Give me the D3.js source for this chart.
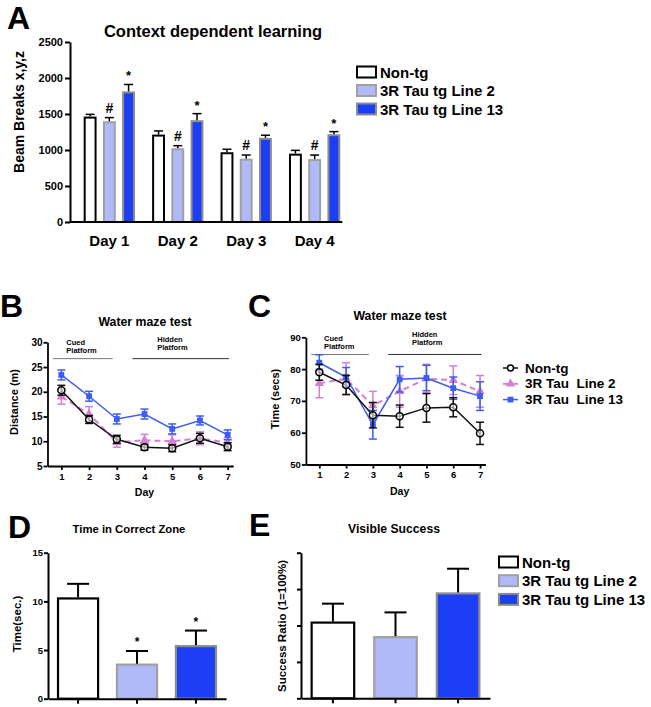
<!DOCTYPE html>
<html>
<head>
<meta charset="utf-8">
<script src="https://cdn.jsdelivr.net/npm/d3@7"></script>
<style>
  body { margin: 0; background: #fff; }
  text { font-family: "Liberation Sans", Arial, sans-serif; font-weight: bold; fill: #000; }
</style>
</head>
<body>
<div id="fig"></div>
<script>
// ---- data ----
var days = ["Day 1", "Day 2", "Day 3", "Day 4"];
var groups = ["Non-tg", "3R Tau tg Line 2", "3R Tau tg Line 13"];
var beamNonTg = [1450, 1200, 955, 935];
var beamLine2 = [1385, 1010, 865, 860];
var beamLine13 = [1800, 1400, 1155, 1205];
var beamNonTgErr = [45, 65, 55, 60];
var beamLine2Err = [65, 50, 65, 70];
var beamLine13Err = [110, 105, 50, 50];
var beamMarks = ["", "#", "*"];
var beamTicks = [0, 500, 1000, 1500, 2000, 2500];

var mazeDays = [1, 2, 3, 4, 5, 6, 7];
var lineNames = ["Non-tg", "3R Tau  Line 2", "3R Tau  Line 13"];
var distNonTg = [20.3, 14.4, 10.4, 8.8, 8.6, 10.6, 8.9];
var distNonTgErr = [1.0, 0.8, 0.8, 0.6, 0.7, 1.0, 0.8];
var distLine2 = [19.0, 15.5, 9.8, 10.2, 10.0, 10.6, 9.7];
var distLine2Err = [1.5, 1.5, 1.0, 1.2, 1.3, 1.3, 1.0];
var distLine13 = [23.4, 19.1, 14.5, 15.5, 12.5, 14.2, 11.3];
var distLine13Err = [1.0, 1.0, 1.0, 1.0, 1.0, 0.9, 1.0];
var distTicks = [5, 10, 15, 20, 25, 30];

var timeNonTg = [79, 75, 65.5, 65.2, 67.8, 68, 59.8];
var timeNonTgErr = [2.5, 3, 4, 3.5, 4.5, 3, 3.5];
var timeLine2 = [75.5, 77, 68.5, 73, 77, 76.5, 73];
var timeLine2Err = [4.5, 5, 4.5, 5, 4.5, 4.5, 5];
var timeLine13 = [82, 77.5, 62.5, 76.8, 77.2, 74, 71.5];
var timeLine13Err = [2.5, 3, 4.5, 4, 4, 3.5, 4.5];
var timeTicks = [50, 60, 70, 80, 90];

// phase bars above the maze plots, in day units
var cuedSpan = [0.7, 2.85];
var hiddenSpan = [3.57, 7.05];

var zoneTime = [10.3, 3.5, 5.4];
var zoneTimeErr = [1.5, 1.4, 1.6];
var zoneMarks = ["", "*", "*"];
var zoneTicks = [0, 5, 10, 15];

var successRatio = [0.52, 0.42, 0.72];
var successErr = [0.13, 0.17, 0.17];
var successTicks = [0, 0.25, 0.5, 0.75, 1];

// ---- styles ----
var barFill = ["#ffffff", "#b1baf8", "#1c3ef5"];
var barStroke = ["#000000", "#a0a0a0", "#8c8c8c"];
var lineColor = ["#111111", "#d47fd2", "#3d5cf0"];

var svg = d3.select("#fig").append("svg")
  .attr("width", 651)
  .attr("height", 707);

function panelLetter(x, y, s) {
  svg.append("text").attr("x", x).attr("y", y)
    .attr("font-size", "32px").text(s);
}

function title(x, y, size, s) {
  svg.append("text").attr("x", x).attr("y", y)
    .attr("text-anchor", "middle").attr("font-size", size).text(s);
}

function yLabel(x, y, size, s) {
  svg.append("text")
    .attr("transform", `translate(${x}, ${y}) rotate(-90)`)
    .attr("text-anchor", "middle")
    .attr("dominant-baseline", "central")
    .attr("font-size", size)
    .text(s);
}

function styleAxis(g, fontSize, width) {
  g.selectAll("path, line").attr("stroke", "#000").attr("stroke-width", width);
  g.selectAll("text").attr("font-size", fontSize)
    .style("font-family", '"Liberation Sans", Arial, sans-serif').style("font-weight", "bold");
}

// ================= Panel A =================
panelLetter(7, 29, "A");
title(213, 37, "16.5px", "Context dependent learning");

var yA = d3.scaleLinear().domain([0, 2500]).range([222, 42]);
var x0 = d3.scaleBand().domain(days).range([70, 354]).paddingInner(0.25).paddingOuter(0.2);
var x1 = d3.scaleBand().domain(groups).range([0, x0.bandwidth()]).paddingInner(0.33);

var beamVals = [beamNonTg, beamLine2, beamLine13];
var beamErrs = [beamNonTgErr, beamLine2Err, beamLine13Err];
var beamRows = [];
days.forEach(function(d, i) {
  groups.forEach(function(gname, j) {
    beamRows.push({ day: d, group: gname, k: j, v: beamVals[j][i], e: beamErrs[j][i] });
  });
});

var gA = svg.append("g");
gA.selectAll("rect").data(beamRows).enter().append("rect")
  .attr("x", d => x0(d.day) + x1(d.group) + 1)
  .attr("y", d => yA(d.v))
  .attr("width", x1.bandwidth() - 2)
  .attr("height", d => yA(0) - yA(d.v))
  .attr("fill", d => barFill[d.k])
  .attr("stroke", d => barStroke[d.k])
  .attr("stroke-width", 2);

var errA = gA.selectAll(".err").data(beamRows).enter().append("g");
errA.append("line")
  .attr("x1", d => x0(d.day) + x1(d.group) + x1.bandwidth() / 2)
  .attr("x2", d => x0(d.day) + x1(d.group) + x1.bandwidth() / 2)
  .attr("y1", d => yA(d.v) - 1)
  .attr("y2", d => yA(d.v + d.e))
  .attr("stroke", "#000").attr("stroke-width", 1.5);
errA.append("line")
  .attr("x1", d => x0(d.day) + x1(d.group) + x1.bandwidth() / 2 - 4.5)
  .attr("x2", d => x0(d.day) + x1(d.group) + x1.bandwidth() / 2 + 4.5)
  .attr("y1", d => yA(d.v + d.e))
  .attr("y2", d => yA(d.v + d.e))
  .attr("stroke", "#000").attr("stroke-width", 1.5);
gA.selectAll(".mark").data(beamRows.filter(d => beamMarks[d.k] !== "")).enter().append("text")
  .attr("x", d => x0(d.day) + x1(d.group) + x1.bandwidth() / 2)
  .attr("y", d => yA(d.v + d.e) - (beamMarks[d.k] === "#" ? 5 : 4))
  .attr("text-anchor", "middle")
  .attr("font-size", d => beamMarks[d.k] === "#" ? "14px" : "13px")
  .text(d => beamMarks[d.k]);

var axA = svg.append("g").attr("transform", "translate(70,0)")
  .call(d3.axisLeft(yA).tickValues(beamTicks).tickFormat(d3.format("d"))
    .tickSize(5).tickSizeOuter(0).tickPadding(2));
styleAxis(axA, "11px", 2);

var axAx = svg.append("g").attr("transform", "translate(0,222)")
  .call(d3.axisBottom(x0).tickSize(0).tickPadding(13));
styleAxis(axAx, "15px", 2);
axAx.select(".domain").remove();
svg.append("line")
  .attr("x1", x0.range()[0]).attr("x2", x0(days[3]) + x0.bandwidth() + 2)
  .attr("y1", yA(0)).attr("y2", yA(0))
  .attr("stroke", "#000").attr("stroke-width", 2);
yLabel(19, 112, "14px", "Beam Breaks x,y,z");

function barLegend(x, y, step) {
  var lg = svg.append("g").attr("transform", `translate(${x},${y})`);
  groups.forEach(function(name, i) {
    lg.append("rect").attr("x", 1).attr("y", i * step - 5.5).attr("width", 19).attr("height", 11)
      .attr("fill", barFill[i]).attr("stroke", i === 0 ? "#000" : barStroke[i]).attr("stroke-width", 2);
    lg.append("text").attr("x", 24).attr("y", i * step).attr("dominant-baseline", "central")
      .attr("font-size", "15px").text(name);
  });
}
barLegend(356, 72, 18.5);

// ================= Panels B and C =================
function mazePanel(cfg) {
  var x = d3.scaleLinear().domain([0.5, 7.2]).range(cfg.xr);
  var y = d3.scaleLinear().domain(cfg.yd).range(cfg.yr);

  // phase annotations
  var ph = svg.append("g");
  ph.append("line").attr("x1", x(cuedSpan[0])).attr("x2", x(cuedSpan[1]))
    .attr("y1", y(cfg.phaseY)).attr("y2", y(cfg.phaseY)).attr("stroke", "#777").attr("stroke-width", 1);
  ph.append("line").attr("x1", x(hiddenSpan[0])).attr("x2", x(hiddenSpan[1]))
    .attr("y1", y(cfg.phaseY)).attr("y2", y(cfg.phaseY)).attr("stroke", "#333").attr("stroke-width", 1);
  [["Cued", 1.18, cfg.cuedTextY], ["Hidden", 4.46, cfg.cuedTextY - 3.5]].forEach(function(p) {
    var t = ph.append("text").attr("x", x(p[1])).attr("y", p[2]).attr("font-size", "7.5px");
    t.append("tspan").attr("x", x(p[1])).text(p[0]);
    t.append("tspan").attr("x", x(p[1])).attr("dy", 8).text("Platform");
  });

  var lineGen = d3.line().x(d => x(d.day)).y(d => y(d.v));
  var order = [1, 2, 0];
  order.forEach(function(k) {
    var rows = mazeDays.map((d, i) => ({ day: d, v: cfg.vals[k][i], e: cfg.errs[k][i] }));
    var g = svg.append("g");
    g.append("path").datum(rows).attr("d", lineGen)
      .attr("fill", "none").attr("stroke", lineColor[k])
      .attr("stroke-width", k === 1 ? 2 : 1.5)
      .attr("stroke-dasharray", k === 1 ? "6,4" : null);
    var eb = g.selectAll(".eb").data(rows).enter().append("g").attr("stroke", lineColor[k]).attr("stroke-width", 1.5);
    eb.append("line").attr("x1", d => x(d.day)).attr("x2", d => x(d.day))
      .attr("y1", d => y(d.v - d.e)).attr("y2", d => y(d.v + d.e));
    eb.append("line").attr("x1", d => x(d.day) - 4).attr("x2", d => x(d.day) + 4)
      .attr("y1", d => y(d.v - d.e)).attr("y2", d => y(d.v - d.e));
    eb.append("line").attr("x1", d => x(d.day) - 4).attr("x2", d => x(d.day) + 4)
      .attr("y1", d => y(d.v + d.e)).attr("y2", d => y(d.v + d.e));
    if (k === 0) {
      g.selectAll("circle").data(rows).enter().append("circle")
        .attr("cx", d => x(d.day)).attr("cy", d => y(d.v)).attr("r", 3.5)
        .attr("fill", "#fff").attr("fill-opacity", 0.6).attr("stroke", "#000").attr("stroke-width", 1.5);
    } else {
      var sym = d3.symbol().type(k === 1 ? d3.symbolTriangle : d3.symbolSquare).size(k === 1 ? 38 : 34);
      g.selectAll(".sym").data(rows).enter().append("path")
        .attr("transform", d => `translate(${x(d.day)},${y(d.v)})`)
        .attr("d", sym).attr("fill", lineColor[k]);
    }
  });

  var ay = svg.append("g").attr("transform", `translate(${cfg.xr[0]},0)`)
    .call(d3.axisLeft(y).tickValues(cfg.ticks).tickFormat(d3.format("d"))
      .tickSize(4).tickSizeOuter(0).tickPadding(1));
  styleAxis(ay, cfg.tickFont, 1.8);
  var ax = svg.append("g").attr("transform", `translate(0,${cfg.yr[0]})`)
    .call(d3.axisBottom(x).tickValues(mazeDays).tickFormat(d3.format("d"))
      .tickSize(4).tickSizeOuter(0).tickPadding(3));
  styleAxis(ax, "9.5px", 1.8);
  svg.append("text").attr("x", x(4)).attr("y", cfg.yr[0] + 30)
    .attr("text-anchor", "middle").attr("font-size", "10.5px").text("Day");
  return x;
}

panelLetter(0, 317, "B");
title(145, 326, "12.3px", "Water maze test");
mazePanel({
  xr: [47.5, 233.2], yd: [5, 30], yr: [466, 342.3],
  vals: [distNonTg, distLine2, distLine13], errs: [distNonTgErr, distLine2Err, distLine13Err],
  ticks: distTicks, tickFont: "10px", phaseY: 26.7, cuedTextY: 345
});
yLabel(14, 402, "11px", "Distance (m)");

panelLetter(248, 317, "C");
title(400, 320, "12.3px", "Water maze test");
mazePanel({
  xr: [305.9, 485.4], yd: [50, 90], yr: [464.5, 337.3],
  vals: [timeNonTg, timeLine2, timeLine13], errs: [timeNonTgErr, timeLine2Err, timeLine13Err],
  ticks: timeTicks, tickFont: "9.5px", phaseY: 84.6, cuedTextY: 340.5
});
yLabel(275, 399, "11px", "Time (secs)");

// legend C
var lgC = svg.append("g").attr("transform", "translate(503,368)");
lineNames.forEach(function(name, k) {
  var yy = k * 15.8;
  lgC.append("line").attr("x1", 0).attr("x2", 15).attr("y1", yy).attr("y2", yy)
    .attr("stroke", lineColor[k]).attr("stroke-width", k === 1 ? 2 : 1.5);
  if (k === 0) {
    lgC.append("circle").attr("cx", 7.5).attr("cy", yy).attr("r", 3)
      .attr("fill", "#fff").attr("stroke", "#000").attr("stroke-width", 1.5);
  } else {
    lgC.append("path").attr("transform", `translate(7.5,${yy})`)
      .attr("d", d3.symbol().type(k === 1 ? d3.symbolTriangle : d3.symbolSquare).size(k === 1 ? 38 : 34))
      .attr("fill", lineColor[k]);
  }
  lgC.append("text").attr("x", 22).attr("y", yy).attr("dominant-baseline", "central")
    .attr("font-size", "13.5px").style("white-space", "pre").text(name);
});

// ================= Panels D and E =================
function simpleBars(cfg) {
  var x = d3.scaleBand().domain(groups).range(cfg.xr).paddingInner(0.32).paddingOuter(0.17);
  var y = d3.scaleLinear().domain(cfg.yd).range(cfg.yr);
  var rows = groups.map((gname, k) => ({ group: gname, k: k, v: cfg.vals[k], e: cfg.errs[k] }));
  var g = svg.append("g");
  g.selectAll("rect").data(rows).enter().append("rect")
    .attr("x", d => x(d.group)).attr("y", d => y(d.v))
    .attr("width", x.bandwidth()).attr("height", d => y(0) - y(d.v))
    .attr("fill", d => barFill[d.k]).attr("stroke", d => barStroke[d.k]).attr("stroke-width", 2.2);
  var eb = g.selectAll(".eb").data(rows).enter().append("g").attr("stroke", "#000").attr("stroke-width", 2);
  eb.append("line").attr("x1", d => x(d.group) + x.bandwidth() / 2).attr("x2", d => x(d.group) + x.bandwidth() / 2)
    .attr("y1", d => y(d.v) - 1).attr("y2", d => y(d.v + d.e));
  eb.append("line").attr("x1", d => x(d.group) + x.bandwidth() / 2 - 11).attr("x2", d => x(d.group) + x.bandwidth() / 2 + 11)
    .attr("y1", d => y(d.v + d.e)).attr("y2", d => y(d.v + d.e));
  if (cfg.marks) {
    g.selectAll(".mk").data(rows.filter(d => cfg.marks[d.k] !== "")).enter().append("text")
      .attr("x", d => x(d.group) + x.bandwidth() / 2).attr("y", d => y(d.v + d.e) - 5)
      .attr("text-anchor", "middle").attr("font-size", "12px").text(d => cfg.marks[d.k]);
  }
  var ay = svg.append("g").attr("transform", `translate(${cfg.xr[0]},0)`)
    .call(d3.axisLeft(y).tickValues(cfg.ticks).tickSize(4).tickSizeOuter(0).tickPadding(1)
      .tickFormat(cfg.showLabels ? d3.format("d") : ""));
  styleAxis(ay, "9.5px", 2);
  var ax = svg.append("g").attr("transform", `translate(0,${cfg.yr[0]})`)
    .call(d3.axisBottom(x).tickSize(5).tickSizeOuter(0).tickFormat(""));
  styleAxis(ax, "9px", 2);
}

panelLetter(8, 538, "D");
title(129, 533, "11.3px", "Time in Correct Zone");
simpleBars({
  xr: [48, 226], yd: [0, 15], yr: [698.7, 552.7],
  vals: zoneTime, errs: zoneTimeErr, marks: zoneMarks, ticks: zoneTicks, showLabels: true
});
yLabel(17, 624, "11.5px", "Time(sec.)");

panelLetter(249, 536, "E");
title(394, 533, "12.2px", "Visible Success");
simpleBars({
  xr: [301, 490], yd: [0, 1], yr: [698.3, 552.7],
  vals: successRatio, errs: successErr, ticks: successTicks, showLabels: false
});
yLabel(282, 626, "11.5px", "Success Ratio (1=100%)");
barLegend(498, 562, 18.7);
</script>
</body>
</html>
